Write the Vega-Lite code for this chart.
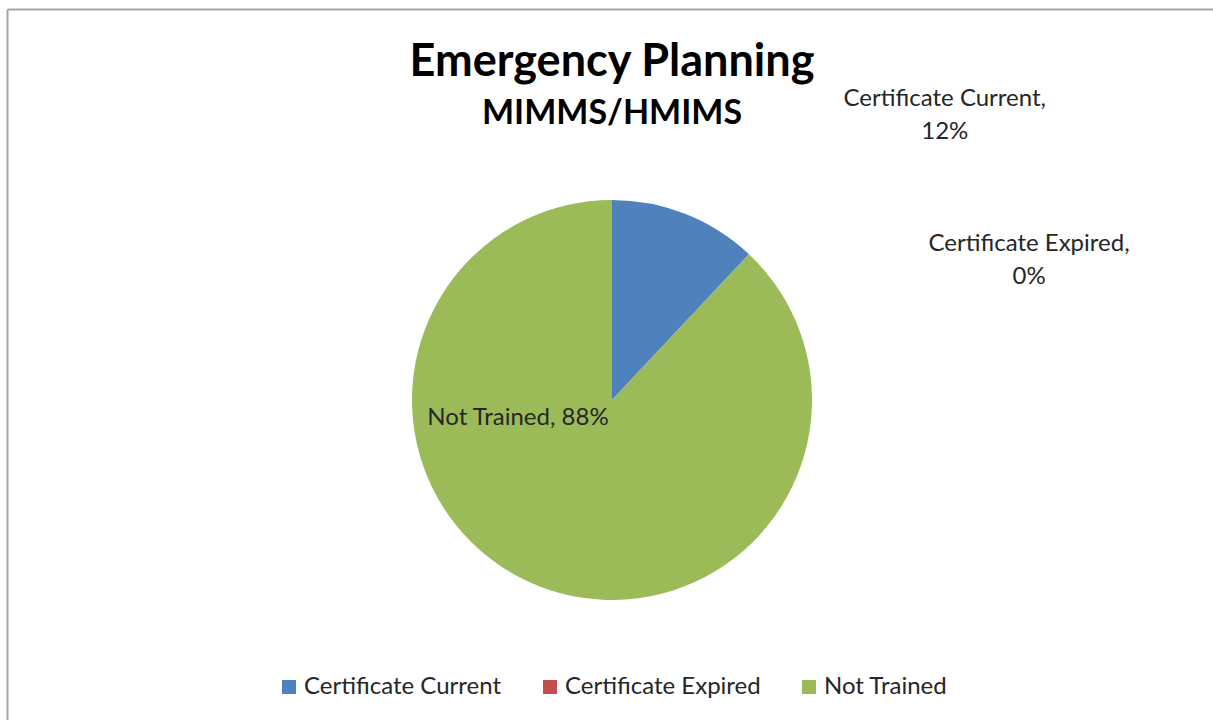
{
  "$schema": "https://vega.github.io/schema/vega-lite/v6.json",
  "width": 1210,
  "height": 782,
  "autosize": {"type": "none"},
  "padding": {"left": 7, "top": 9, "right": 0, "bottom": 0},
  "background": "white",
  "view": {"stroke": null, "fill": "white"},
  "config": {"font": "Lato"},
  "title": {
    "text": "Emergency Planning",
    "subtitle": "MIMMS/HMIMS",
    "anchor": "middle",
    "frame": "group",
    "offset": -122,
    "font": "Lato",
    "fontSize": 45,
    "fontWeight": "bold",
    "color": "#000000",
    "subtitleFont": "Lato",
    "subtitleFontSize": 34,
    "subtitleFontWeight": "bold",
    "subtitleColor": "#000000",
    "subtitlePadding": 12
  },
  "data": {
    "values": [
      {"category": "Certificate Current", "share": 0.12},
      {"category": "Certificate Expired", "share": 0.0},
      {"category": "Not Trained", "share": 0.88}
    ]
  },
  "transform": [
    {"calculate": "[datum.category + ',', format(datum.share, '.0%')]", "as": "label2"},
    {"calculate": "datum.category + ', ' + format(datum.share, '.0%')", "as": "label1"}
  ],
  "layer": [
    {
      "mark": {"type": "text"},
      "encoding": {
        "x": {"field": "share", "type": "quantitative", "axis": {"orient": "top", "title": null, "labels": false, "ticks": false, "grid": false, "domainColor": "#a6a6a6", "domainWidth": 2}},
        "y": {"field": "share", "type": "quantitative", "axis": {"orient": "left", "title": null, "labels": false, "ticks": false, "grid": false, "domainColor": "#a6a6a6", "domainWidth": 2}},
        "text": {"value": ""}
      }
    },
    {
      "mark": {"type": "arc", "outerRadius": 200},
      "encoding": {
        "theta": {"field": "share", "type": "quantitative", "stack": true},
        "color": {
          "field": "category",
          "type": "nominal",
          "scale": {
            "domain": ["Certificate Current", "Certificate Expired", "Not Trained"],
            "range": ["#4f81bd", "#c0504d", "#9bbb59"]
          },
          "legend": {
            "title": null,
            "orient": "none",
            "legendX": 270,
            "legendY": 666,
            "direction": "horizontal",
            "symbolType": "square",
            "symbolSize": 196,
            "symbolStrokeWidth": 0,
            "labelFont": "Lato",
            "labelFontSize": 24,
            "labelColor": "#262626",
            "labelOffset": 3,
            "columnPadding": 36,
            "labelLimit": 400
          }
        }
      }
    },
    {
      "mark": {"type": "text", "radius": 320, "dx": 215, "dy": 4, "align": "center", "baseline": "alphabetic", "fontSize": 24, "lineHeight": 33, "color": "#262626"},
      "encoding": {
        "theta": {"field": "share", "type": "quantitative", "stack": true},
        "text": {"condition": {"test": "datum.category === 'Certificate Current'", "field": "label2"}, "value": ""}
      }
    },
    {
      "mark": {"type": "text", "radius": 320, "dx": 198, "dy": 84, "align": "center", "baseline": "alphabetic", "fontSize": 24, "lineHeight": 33, "color": "#262626"},
      "encoding": {
        "theta": {"field": "share", "type": "quantitative", "stack": true},
        "text": {"condition": {"test": "datum.category === 'Certificate Expired'", "field": "label2"}, "value": ""}
      }
    },
    {
      "mark": {"type": "text", "radius": 0, "dx": -94, "dy": 25, "align": "center", "baseline": "alphabetic", "fontSize": 24, "color": "#262626"},
      "encoding": {
        "theta": {"field": "share", "type": "quantitative", "stack": true},
        "text": {"condition": {"test": "datum.category === 'Not Trained'", "field": "label1"}, "value": ""}
      }
    }
  ]
}
